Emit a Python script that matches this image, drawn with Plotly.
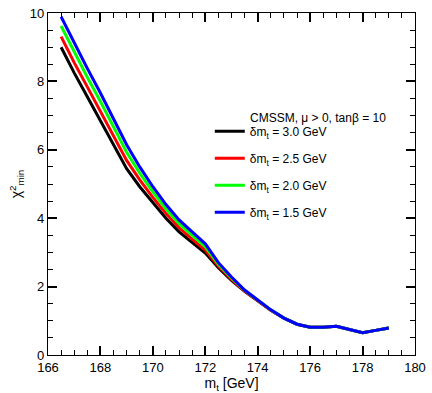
import plotly.graph_objects as go

mt = [166.5, 167.0, 167.5, 168.0, 168.5, 169.0, 169.5, 170.0, 170.5, 171.0,
      171.5, 172.0, 172.5, 173.0, 173.5, 174.0, 174.5, 175.0, 175.5, 176.0,
      176.5, 177.0, 177.5, 178.0, 178.5, 179.0]

chi2_dm30 = [9.00, 8.25, 7.55, 6.85, 6.15, 5.45, 4.92, 4.45, 4.00, 3.60,
             3.28, 2.98, 2.55, 2.18, 1.86, 1.58, 1.31, 1.08, 0.90, 0.81,
             0.81, 0.84, 0.74, 0.65, 0.72, 0.79]
chi2_dm25 = [9.31, 8.55, 7.84, 7.13, 6.41, 5.69, 5.12, 4.61, 4.14, 3.72,
             3.39, 3.07, 2.60, 2.21, 1.87, 1.59, 1.31, 1.08, 0.90, 0.81,
             0.81, 0.84, 0.74, 0.65, 0.72, 0.79]
chi2_dm20 = [9.62, 8.85, 8.12, 7.41, 6.67, 5.93, 5.32, 4.77, 4.27, 3.84,
             3.50, 3.16, 2.65, 2.25, 1.89, 1.60, 1.32, 1.08, 0.90, 0.81,
             0.81, 0.84, 0.74, 0.65, 0.72, 0.79]
chi2_dm15 = [9.89, 9.12, 8.38, 7.66, 6.90, 6.15, 5.50, 4.92, 4.40, 3.95,
             3.60, 3.25, 2.70, 2.28, 1.90, 1.60, 1.32, 1.08, 0.90, 0.81,
             0.81, 0.84, 0.74, 0.65, 0.72, 0.79]

series = [
    ("δm<sub>t</sub> = 3.0 GeV", chi2_dm30, "#000000"),
    ("δm<sub>t</sub> = 2.5 GeV", chi2_dm25, "#ff0000"),
    ("δm<sub>t</sub> = 2.0 GeV", chi2_dm20, "#00ff00"),
    ("δm<sub>t</sub> = 1.5 GeV", chi2_dm15, "#0000ff"),
]

fig = go.Figure()
for i, (name, vals, col) in enumerate(series):
    fig.add_trace(go.Scatter(x=mt, y=vals, mode="lines", name=name,
                             legendgroup=str(i),
                             line=dict(color=col, width=3)))

font = "Liberation Sans, Arial, sans-serif"

common = dict(showgrid=False, zeroline=False, showline=True,
              linecolor="black", linewidth=1.2, mirror="allticks",
              ticks="inside", ticklen=9, tickwidth=1.5, tickcolor="#000000",
              tickfont=dict(family=font, size=13, color="black"),
              ticklabeloverflow="allow",
              minor=dict(ticks="inside", ticklen=5, tickwidth=1.2,
                         tickcolor="#000000", showgrid=False))

fig.update_xaxes(range=[166, 180], dtick=2, tick0=166,
                 title=dict(text="m<sub>t</sub> [GeV]", standoff=2,
                            font=dict(family=font, size=14, color="black")),
                 **common)
fig.update_xaxes(minor_dtick=0.5)
fig.update_yaxes(range=[0, 10], dtick=2, tick0=0,
                 title=dict(text="χ<sup>2</sup><sub>min</sub>", standoff=4,
                            font=dict(family=font, size=14, color="black")),
                 **common)
fig.update_yaxes(minor_dtick=0.5)

fig.add_annotation(text="CMSSM, μ > 0, tanβ = 10", xref="paper", yref="paper",
                   x=(251 - 48) / 372, y=(355 - 113) / 349, xanchor="left",
                   yanchor="middle", showarrow=False,
                   font=dict(family=font, size=12, color="black"))

fig.update_layout(
    template="simple_white",
    width=432, height=393,
    margin=dict(l=48, r=12, t=6, b=38),
    paper_bgcolor="white", plot_bgcolor="white",
    font=dict(family=font, size=12, color="black"),
    showlegend=True,
    legend=dict(x=(212 - 48) / 372, y=(355 - 112) / 349, xanchor="left",
                yanchor="top", bgcolor="rgba(0,0,0,0)", borderwidth=0,
                tracegroupgap=8, font=dict(family=font, size=12, color="black")),
)

fig.write_html("out.html", config={"displayModeBar": False},
               post_script="document.body.style.margin='0';document.body.style.padding='0';")
